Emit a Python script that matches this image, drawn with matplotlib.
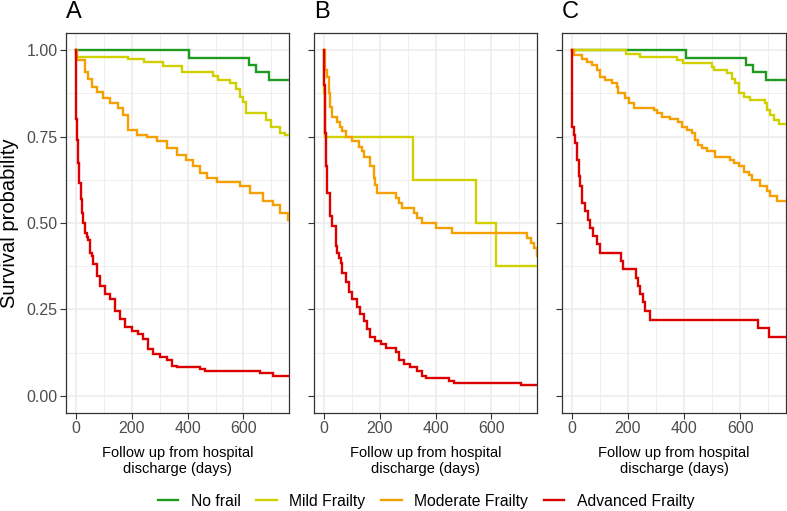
import matplotlib
matplotlib.use("Agg")
import matplotlib.pyplot as plt
from matplotlib.ticker import MultipleLocator

plt.rcParams['font.family'] = ['Liberation Sans', 'DejaVu Sans']

# ---------------- data (step curves: time in days, survival probability) -------------
series_names = ["No frail", "Mild Frailty", "Moderate Frailty", "Advanced Frailty"]
series_colors = ["#1E9B1E", "#D0D000", "#F5A000", "#DD0000"]
panel_labels = ["A", "B", "C"]
x_ticks = [0, 200, 400, 600]
y_ticks = [0.00, 0.25, 0.50, 0.75, 1.00]
end_day = 765

# Panel A
a_nofrail_t = [0, 406, 620, 644, 691]
a_nofrail_s = [1.0, 0.978, 0.958, 0.9375, 0.913]
a_mild_t = [0, 2, 188, 244, 313, 381, 491, 509, 551, 575, 587, 598, 610, 682, 700, 730, 747]
a_mild_s = [1.0, 0.981, 0.974, 0.966, 0.955, 0.937, 0.926, 0.915, 0.904, 0.889, 0.865,
            0.851, 0.817, 0.798, 0.779, 0.760, 0.755]
a_mod_t = [0, 4, 33, 45, 57, 75, 99, 122, 152, 170, 188, 218, 254, 289, 325, 361, 396,
           420, 444, 468, 504, 551, 587, 622, 670, 706, 730, 759]
a_mod_s = [1.0, 0.971, 0.937, 0.918, 0.894, 0.880, 0.861, 0.846, 0.832, 0.813, 0.769,
           0.755, 0.750, 0.736, 0.717, 0.697, 0.683, 0.664, 0.645, 0.630, 0.620, 0.618,
           0.606, 0.587, 0.563, 0.553, 0.529, 0.510]
a_adv_t = [0, 1, 4, 7, 12, 17, 21, 27, 34, 40, 45, 51, 57, 63, 75, 87, 105, 122, 140, 158,
           176, 200, 224, 241, 259, 277, 301, 325, 343, 361, 444, 462, 658, 706]
a_adv_s = [1.0, 0.80, 0.74, 0.674, 0.617, 0.57, 0.530, 0.50, 0.472, 0.46, 0.452, 0.414,
           0.404, 0.380, 0.347, 0.318, 0.294, 0.280, 0.246, 0.222, 0.198, 0.188, 0.179,
           0.164, 0.135, 0.121, 0.111, 0.102, 0.087, 0.083, 0.078, 0.071, 0.066, 0.058]

# Panel B
b_mild_t = [0, 2, 4, 318, 545, 618]
b_mild_s = [1.0, 0.875, 0.75, 0.625, 0.5, 0.375]
b_mod_t = [0, 3, 6, 12, 18, 24, 30, 48, 57, 66, 78, 101, 125, 137, 143, 167, 179, 185,
           191, 257, 268, 280, 322, 334, 352, 400, 459, 728, 740, 751, 763]
b_mod_s = [1.0, 0.96, 0.942, 0.923, 0.875, 0.837, 0.808, 0.793, 0.779, 0.765, 0.750,
           0.736, 0.721, 0.707, 0.692, 0.664, 0.630, 0.611, 0.587, 0.573, 0.558, 0.544,
           0.529, 0.515, 0.500, 0.486, 0.472, 0.457, 0.443, 0.429, 0.404]
b_adv_t = [0, 2, 3, 5, 6, 9, 12, 21, 30, 42, 48, 54, 60, 66, 78, 90, 101, 119, 131, 143,
           155, 167, 185, 203, 221, 257, 268, 286, 310, 334, 352, 364, 447, 465, 704]
b_adv_s = [1.0, 0.90, 0.856, 0.80, 0.760, 0.664, 0.587, 0.520, 0.491, 0.433, 0.414, 0.400,
           0.385, 0.356, 0.328, 0.299, 0.280, 0.256, 0.236, 0.217, 0.193, 0.169, 0.159,
           0.150, 0.137, 0.126, 0.102, 0.092, 0.083, 0.073, 0.058, 0.051, 0.044, 0.037,
           0.032]

# Panel C
c_nofrail_t = [0, 407, 621, 645, 692]
c_nofrail_s = [1.0, 0.978, 0.958, 0.9375, 0.913]
c_mild_t = [0, 192, 243, 374, 395, 499, 505, 552, 570, 582, 594, 612, 636, 689, 697, 707,
            719, 737]
c_mild_s = [1.0, 0.990, 0.981, 0.971, 0.962, 0.952, 0.942, 0.933, 0.918, 0.904, 0.875,
            0.865, 0.856, 0.846, 0.827, 0.813, 0.798, 0.787]
c_mod_t = [0, 6, 36, 53, 71, 89, 101, 119, 143, 160, 166, 190, 202, 220, 291, 303, 321,
           350, 380, 392, 410, 428, 440, 451, 463, 481, 511, 564, 576, 594, 612, 630, 642,
           671, 695, 707, 731]
c_mod_s = [1.0, 0.986, 0.976, 0.966, 0.957, 0.942, 0.923, 0.914, 0.906, 0.894, 0.875,
           0.861, 0.846, 0.834, 0.827, 0.818, 0.808, 0.801, 0.793, 0.779, 0.769, 0.760,
           0.741, 0.726, 0.717, 0.707, 0.692, 0.683, 0.673, 0.664, 0.649, 0.640, 0.625,
           0.606, 0.592, 0.577, 0.563]
c_adv_t = [0, 1, 6, 12, 18, 24, 30, 36, 47, 56, 65, 77, 89, 101, 175, 184, 229, 234, 244,
           255, 261, 279, 665, 704]
c_adv_s = [1.0, 0.779, 0.755, 0.731, 0.683, 0.635, 0.606, 0.558, 0.534, 0.510, 0.486,
           0.462, 0.438, 0.414, 0.390, 0.366, 0.342, 0.318, 0.294, 0.270, 0.246, 0.220,
           0.195, 0.169]

panels = [
    [(a_nofrail_t, a_nofrail_s, 0), (a_mild_t, a_mild_s, 1), (a_mod_t, a_mod_s, 2),
     (a_adv_t, a_adv_s, 3)],
    [(b_mild_t, b_mild_s, 1), (b_mod_t, b_mod_s, 2), (b_adv_t, b_adv_s, 3)],
    [(c_nofrail_t, c_nofrail_s, 0), (c_mild_t, c_mild_s, 1), (c_mod_t, c_mod_s, 2),
     (c_adv_t, c_adv_s, 3)],
]

# ---------------- figure ----------------
W, H = 787, 511
fig = plt.figure(figsize=(W / 100, H / 100), dpi=100)
fig.patch.set_facecolor("white")

ax_px = [(66, 289), (314, 537), (562, 786)]
top_px, bot_px = 33, 413
grid_col = "#EBEBEB"
handles = {}

for i, (l, r) in enumerate(ax_px):
    ax = fig.add_axes([l / W, 1 - bot_px / H, (r - l) / W, (bot_px - top_px) / H])
    ax.set_xlim(-35, 763)
    ax.set_ylim(-0.05, 1.05)
    ax.xaxis.set_major_locator(MultipleLocator(200))
    ax.xaxis.set_minor_locator(MultipleLocator(100))
    ax.yaxis.set_major_locator(MultipleLocator(0.25))
    ax.yaxis.set_minor_locator(MultipleLocator(0.125))
    ax.set_xticks(x_ticks)
    ax.set_yticks(y_ticks)
    ax.grid(which="major", color=grid_col, lw=1.1, zorder=0)
    ax.grid(which="minor", color=grid_col, lw=0.55, zorder=0)
    ax.set_axisbelow(True)
    ax.tick_params(which="minor", length=0)
    ax.tick_params(which="major", length=4, width=0.8, color="#333333",
                   labelsize=11.5, labelcolor="#4D4D4D", pad=2)
    if i == 0:
        ax.set_yticklabels([f"{v:.2f}" for v in y_ticks])
    else:
        ax.set_yticklabels([])
    for sp in ax.spines.values():
        sp.set_color("#333333")
        sp.set_linewidth(0.9)

    for t, s, k in panels[i]:
        tt = list(t) + [end_day]
        ss = list(s) + [s[-1]]
        ln, = ax.step(tt, ss, where="post", color=series_colors[k], lw=1.7,
                      solid_joinstyle="miter", zorder=3)
        handles[k] = ln

    fig.text(l / W, 1 - 18 / H, panel_labels[i], fontsize=17, ha="left",
             va="baseline")
    fig.text((l + r) / 2 / W, 1 - 461 / H,
             "Follow up from hospital\ndischarge (days)", fontsize=10.5,
             ha="center", va="center", multialignment="center", linespacing=1.1)

fig.text(10 / W, 1 - 223 / H, "Survival probability", rotation=90, fontsize=14.5,
         ha="center", va="center")

leg_handles = [handles[k] for k in range(4)]
fig.legend(leg_handles, series_names, loc="center", bbox_to_anchor=(426 / W, 1 - 501 / H),
           ncol=4, frameon=False, fontsize=11.3, handlelength=1.3, handletextpad=0.8,
           columnspacing=1.0, borderaxespad=0, borderpad=0)

fig.savefig("out.png", dpi=100, facecolor="white")
